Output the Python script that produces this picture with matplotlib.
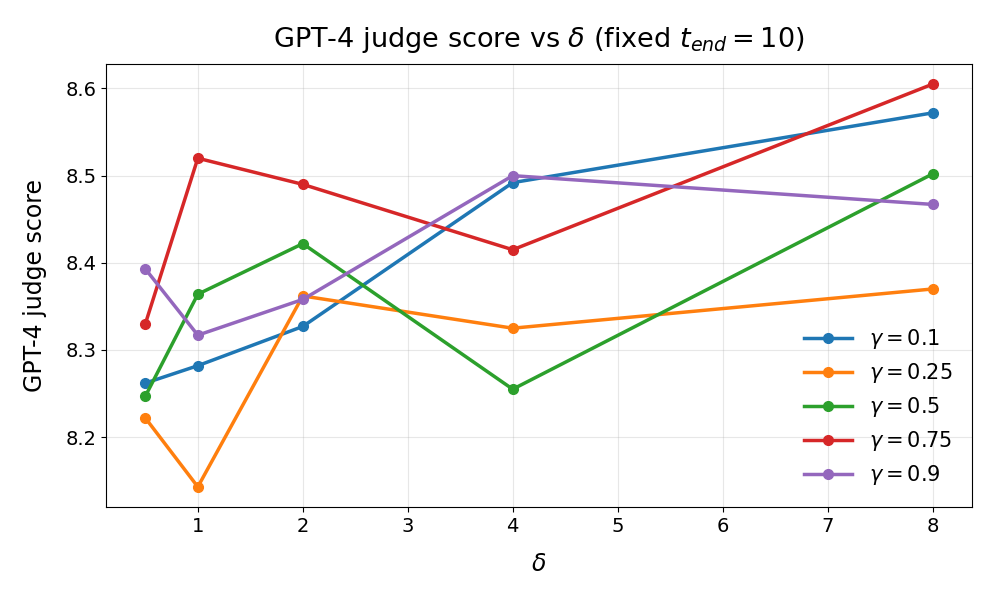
import matplotlib
matplotlib.use("Agg")
import matplotlib.pyplot as plt

deltas = [0.5, 1, 2, 4, 8]
gammas = ["0.1", "0.25", "0.5", "0.75", "0.9"]
scores_g01 = [8.262, 8.282, 8.327, 8.492, 8.572]
scores_g025 = [8.222, 8.143, 8.362, 8.325, 8.370]
scores_g05 = [8.247, 8.364, 8.422, 8.255, 8.502]
scores_g075 = [8.330, 8.520, 8.490, 8.415, 8.605]
scores_g09 = [8.393, 8.317, 8.358, 8.500, 8.467]
series = [scores_g01, scores_g025, scores_g05, scores_g075, scores_g09]

fig = plt.figure(figsize=(9.96, 5.98), dpi=100)
ax = fig.add_axes([0.1064, 0.1522, 0.8695, 0.7408])
for g, s in zip(gammas, series):
    ax.plot(deltas, s, marker="o", linewidth=2.5, markersize=7, label=rf"$\gamma = {g}$")
ax.set_title(r"GPT-4 judge score vs $\delta$ (fixed $t_{end} = 10$)", fontsize=19.5, pad=12)
ax.set_xlabel(r"$\delta$", fontsize=17, labelpad=12)
ax.set_ylabel("GPT-4 judge score", fontsize=17, labelpad=13)
ax.tick_params(labelsize=14)
ax.set_yticks([8.2, 8.3, 8.4, 8.5, 8.6])
ax.set_xticks(range(1, 9))
ax.grid(True, alpha=0.3)
ax.legend(loc="lower right", fontsize=15, frameon=False, handlelength=2.3,
          labelspacing=0.48, borderaxespad=0.55)
fig.savefig("out.png", dpi=100)
